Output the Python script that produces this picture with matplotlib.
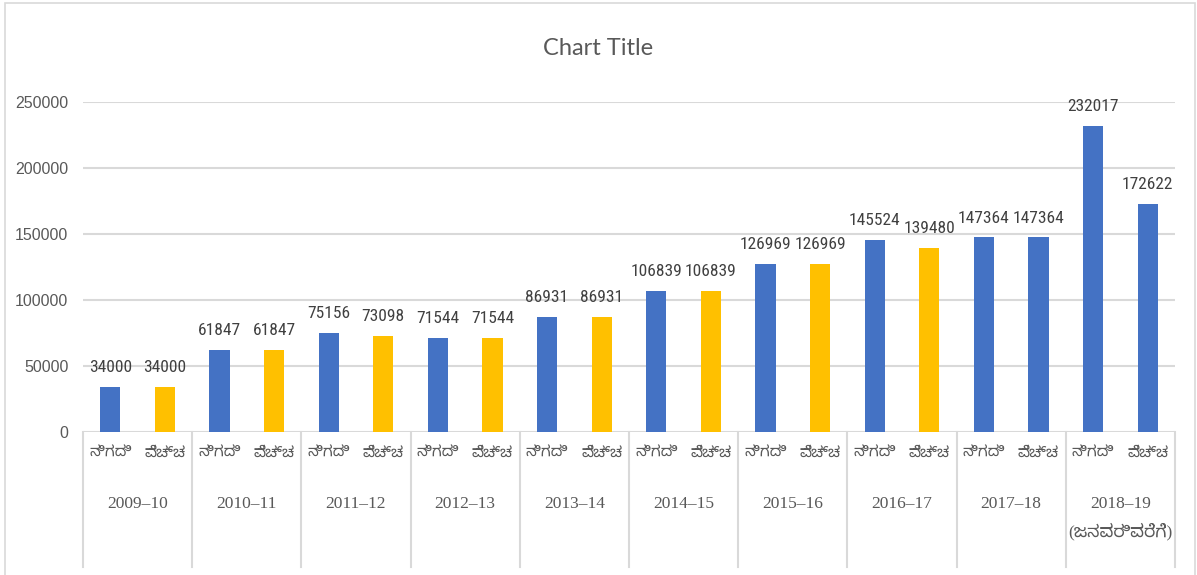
import numpy as np
import matplotlib.pyplot as plt
from matplotlib import font_manager
from matplotlib.patches import Rectangle
import matplotlib.transforms as mtransforms

years = ['2009–10', '2010–11', '2011–12', '2012–13', '2013–14',
         '2014–15', '2015–16', '2016–17', '2017–18', '2018–19\n(ಜನವರಿವರೆಗೆ)']
sub_labels = ['ನಿಗದಿ', 'ವೆಚ್ಚ']
nigadi = [34000, 61847, 75156, 71544, 86931, 106839, 126969, 145524, 147364, 232017]
vechcha = [34000, 61847, 73098, 71544, 86931, 106839, 126969, 139480, 147364, 172622]

blue = '#4472C4'
gold = '#FFC000'
grid_c = '#D9D9D9'
txt_c = '#595959'

installed = {f.name for f in font_manager.fontManager.ttflist}
def fams(*names):
    out = [n for n in names if n in installed]
    return out + ['DejaVu Sans']

narrow = [n for n in ('Roboto Condensed', 'Liberation Sans Narrow') if n in installed]
num_font = narrow + fams('Liberation Sans')
num_size = 12.5 if narrow else 10.5
kn_font = fams('Noto Sans Kannada', 'Noto Serif Kannada', 'Lohit Kannada')
year_font = fams('Liberation Serif') + kn_font

# interleave the two series, one bar per (year, type)
values = []
colors = []
for i in range(len(years)):
    values += [nigadi[i], vechcha[i]]
    colors += [blue, gold]
# last three bars are blue in the original
colors[-3:] = [blue, blue, blue]
xpos = np.arange(len(values))

fig = plt.figure(figsize=(11.97, 5.75), dpi=100)
ax = fig.add_axes([0.0693, 0.2487, 0.9123, 0.5739])

ax.bar(xpos, values, width=0.37, color=colors, zorder=3)
ax.set_xlim(-0.5, len(values) - 0.5)
ax.set_ylim(0, 250000)
ax.set_yticks(np.arange(0, 250001, 50000))
ax.yaxis.grid(True, color=grid_c, linewidth=1.5, zorder=0)
for s in ax.spines.values():
    s.set_visible(False)
ax.tick_params(axis='y', length=0, pad=10.5, labelsize=11.5, labelcolor=txt_c)
for t in ax.get_yticklabels():
    t.set_family(fams('Liberation Sans'))

ax.set_xticks(xpos)
ax.set_xticklabels(sub_labels * len(years), family=kn_font, fontsize=11, color=txt_c)
ax.tick_params(axis='x', length=0, pad=10)

for x, v in zip(xpos, values):
    ax.annotate(str(v), (x, v), xytext=(0, 14), textcoords='offset points',
                ha='center', va='center', fontsize=num_size, color='#404040', family=num_font)

trans = mtransforms.blended_transform_factory(ax.transData, ax.transAxes)
for k in range(len(years) + 1):
    ax.plot([2 * k - 0.5, 2 * k - 0.5], [0, -0.41], transform=trans,
            color=grid_c, linewidth=1.5, clip_on=False)
for k, y in enumerate(years):
    ax.text(2 * k + 0.5, -0.195, y, transform=trans, ha='center', va='top',
            fontsize=12.5, color=txt_c, family=year_font, linespacing=1.75)

fig.text(0.5, 0.915, 'Chart Title', ha='center', va='center', fontsize=17,
         color=txt_c, family=fams('Lato', 'Open Sans'))

fig.patches.append(Rectangle((5 / 1197, -0.01), 1190 / 1197, 1.0 - 3 / 575 + 0.01,
                             transform=fig.transFigure, fill=False,
                             edgecolor=grid_c, linewidth=1.2))

fig.savefig('out.png', dpi=100)
